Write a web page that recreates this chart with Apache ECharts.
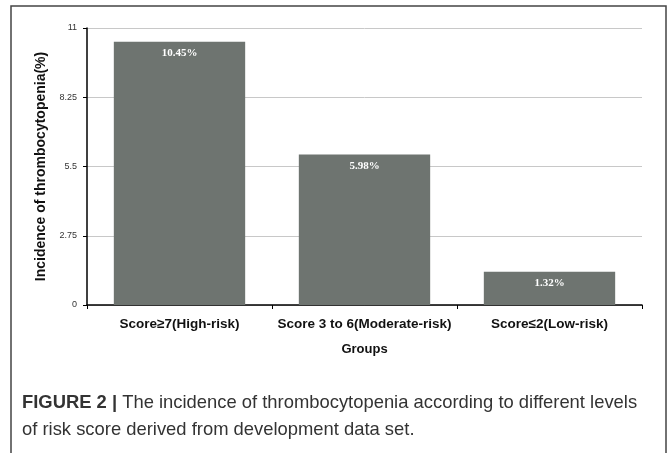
<!DOCTYPE html>
<html>
<head>
<meta charset="utf-8">
<script src="https://cdn.jsdelivr.net/npm/echarts@6/dist/echarts.min.js"></script>
<style>
  html, body { margin: 0; padding: 0; background: #fff; }
  #chart { width: 670px; height: 453px; }
</style>
</head>
<body>
<div id="chart"></div>
<script>
// data
const groups = ["Score\u22657(High-risk)", "Score 3 to 6(Moderate-risk)", "Score\u22642(Low-risk)"];
const incidence = [10.45, 5.98, 1.32];
const yTicks = [0, 2.75, 5.5, 8.25, 11];

const chart = echarts.init(document.getElementById("chart"));

chart.setOption({
  animation: false,
  graphic: [
    {
      type: "rect",
      shape: { x: 11, y: 6, width: 655, height: 470 },
      style: { fill: "none", stroke: "#444", lineWidth: 1.5 }
    },
    {
      type: "text",
      left: 22,
      top: 389,
      style: {
        text: "{b|FIGURE 2 |} The incidence of thrombocytopenia according to different levels\nof risk score derived from development data set.",
        fontFamily: "Liberation Sans, Arial, sans-serif",
        fontSize: 18.4,
        lineHeight: 27,
        fill: "#333",
        rich: {
          b: { fontWeight: "bold", fontSize: 18.4, fill: "#333", fontFamily: "Liberation Sans, Arial, sans-serif" }
        }
      }
    }
  ],
  grid: {
    left: 87,
    right: 28,
    top: 28,
    bottom: 148
  },
  xAxis: {
    type: "category",
    data: groups,
    name: "Groups",
    nameLocation: "middle",
    nameGap: 38,
    nameTextStyle: {
      fontFamily: "Liberation Sans, Arial, sans-serif",
      fontWeight: "bold",
      fontSize: 13,
      color: "#111"
    },
    axisLine: { lineStyle: { color: "#000", width: 1.5 } },
    axisTick: { show: true, interval: 0, length: 4, lineStyle: { color: "#000" } },
    axisLabel: {
      interval: 0,
      margin: 12,
      fontFamily: "Liberation Sans, Arial, sans-serif",
      fontWeight: "bold",
      fontSize: 13.5,
      color: "#111"
    }
  },
  yAxis: {
    type: "value",
    min: yTicks[0],
    max: yTicks[yTicks.length - 1],
    interval: yTicks[1],
    name: "Incidence of thrombocytopenia(%)",
    nameLocation: "middle",
    nameGap: 36,
    nameTextStyle: {
      fontFamily: "Liberation Sans, Arial, sans-serif",
      fontWeight: "bold",
      fontSize: 14,
      color: "#111"
    },
    axisLine: { show: true, lineStyle: { color: "#000", width: 1.5 } },
    axisTick: { show: true, length: 4, lineStyle: { color: "#000" } },
    axisLabel: {
      margin: 10,
      fontFamily: "Liberation Sans, Arial, sans-serif",
      fontSize: 9,
      color: "#333"
    },
    splitLine: { lineStyle: { color: "#c8c8c8", width: 1 } }
  },
  series: [
    {
      type: "bar",
      data: incidence,
      barCategoryGap: "29%",
      itemStyle: { color: "#6e7470" },
      label: {
        show: true,
        position: "insideTop",
        distance: 6,
        formatter: function (p) {
          return p.value.toFixed(2) + "%";
        },
        fontFamily: "Liberation Serif, Times New Roman, serif",
        fontWeight: "bold",
        fontSize: 11,
        color: "#fff"
      }
    }
  ]
});
</script>
</body>
</html>
